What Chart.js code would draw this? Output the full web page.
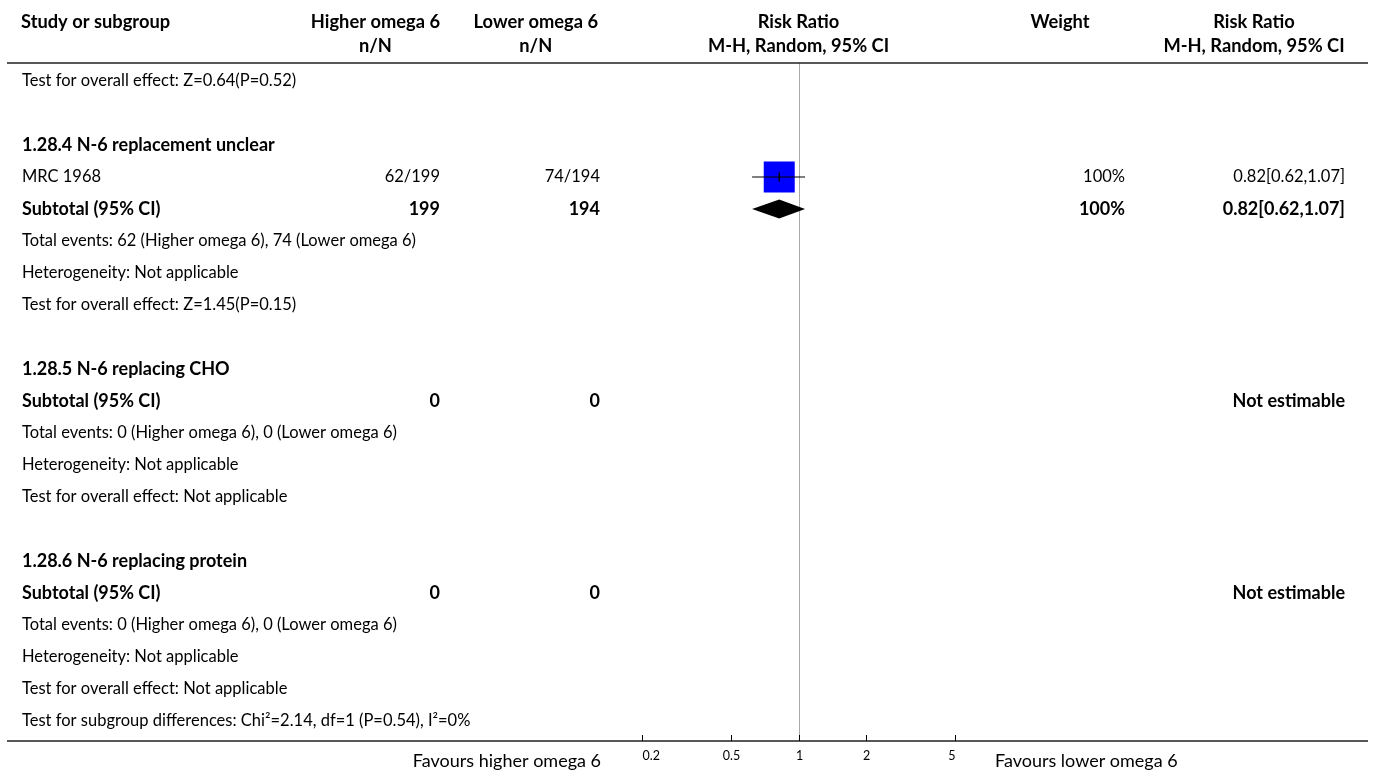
<!DOCTYPE html>
<html>
<head>
<meta charset="utf-8">
<script src="https://cdn.jsdelivr.net/npm/chart.js@4"></script>
<style>
  body { margin: 0; background: #fff; }
  #wrap { width: 1375px; height: 774px; }
</style>
</head>
<body>
<div id="wrap"><canvas id="chart" width="1375" height="774"></canvas></div>
<script>
// table rows, top to bottom
const rowLabels = [
  "Test for overall effect: Z=0.64(P=0.52)", "",
  "1.28.4 N-6 replacement unclear", "MRC 1968", "Subtotal (95% CI)",
  "Total events: 62 (Higher omega 6), 74 (Lower omega 6)",
  "Heterogeneity: Not applicable", "Test for overall effect: Z=1.45(P=0.15)", "",
  "1.28.5 N-6 replacing CHO", "Subtotal (95% CI)",
  "Total events: 0 (Higher omega 6), 0 (Lower omega 6)",
  "Heterogeneity: Not applicable", "Test for overall effect: Not applicable", "",
  "1.28.6 N-6 replacing protein", "Subtotal (95% CI)",
  "Total events: 0 (Higher omega 6), 0 (Lower omega 6)",
  "Heterogeneity: Not applicable", "Test for overall effect: Not applicable",
  "Test for subgroup differences: Chi²=2.14, df=1 (P=0.54), I²=0%"
];
const rowKinds = [
  "note", "blank", "group", "study", "subtotal", "note", "note", "note", "blank",
  "group", "subtotal", "note", "note", "note", "blank",
  "group", "subtotal", "note", "note", "note", "note"
];
const higherCol = ["", "", "", "62/199", "199", "", "", "", "", "", "0", "", "", "", "", "", "0", "", "", "", ""];
const lowerCol  = ["", "", "", "74/194", "194", "", "", "", "", "", "0", "", "", "", "", "", "0", "", "", "", ""];
const weightCol = ["", "", "", "100%", "100%", "", "", "", "", "", "", "", "", "", "", "", "", "", "", "", ""];
const rrCol     = ["", "", "", "0.82[0.62,1.07]", "0.82[0.62,1.07]", "", "", "", "", "", "Not estimable", "", "", "", "", "", "Not estimable", "", "", "", ""];

// study estimates
const studyRows = [3];
const studyRR = [0.82];
const studyLo = [0.62];
const studyHi = [1.07];
const studyWeight = [100];

// pooled estimates
const subRows = [4];
const subRR = [0.82];
const subLo = [0.62];
const subHi = [1.07];

const tickValues = [0.2, 0.5, 1, 2, 5];
const favoursLeft = "Favours higher omega 6";
const favoursRight = "Favours lower omega 6";

const FONT = "Lato, 'Liberation Sans', sans-serif";
const REG = "16.5px " + FONT;
const BOLD = "bold 18px " + FONT;
const HEAD = "bold 18.3px " + FONT;

const squareData = studyRows.map((r, i) => ({ x: studyRR[i], y: r, w: studyWeight[i] }));
const ciData = [];
studyRows.forEach((r, i) => {
  ciData.push({ x: studyLo[i], y: r }, { x: studyHi[i], y: r }, { x: null, y: null });
});

const tablePlugin = {
  id: "table",
  beforeDatasetsDraw(chart) {
    const ctx = chart.ctx;
    const xs = chart.scales.x;
    const area = chart.chartArea;
    const x1 = Math.round(xs.getPixelForValue(1)) + 0.5;
    ctx.save();
    // line of no effect
    ctx.strokeStyle = "#aaaaaa";
    ctx.lineWidth = 1;
    ctx.beginPath();
    ctx.moveTo(x1, area.top);
    ctx.lineTo(x1, area.bottom);
    ctx.stroke();
    ctx.restore();
  },
  afterDatasetsDraw(chart) {
    const ctx = chart.ctx;
    const xs = chart.scales.x, ys = chart.scales.y;
    const area = chart.chartArea;
    const x1 = xs.getPixelForValue(1);
    ctx.save();

    // diamonds
    ctx.fillStyle = "#000";
    subRows.forEach((r, i) => {
      const y = ys.getPixelForValue(r);
      ctx.beginPath();
      ctx.moveTo(xs.getPixelForValue(subLo[i]), y);
      ctx.lineTo(xs.getPixelForValue(subRR[i]), y - 9.5);
      ctx.lineTo(xs.getPixelForValue(subHi[i]), y);
      ctx.lineTo(xs.getPixelForValue(subRR[i]), y + 9.5);
      ctx.closePath();
      ctx.fill();
    });

    // rules
    ctx.strokeStyle = "#222";
    ctx.lineWidth = 1.5;
    ctx.beginPath();
    ctx.moveTo(7, area.top);
    ctx.lineTo(1368, area.top);
    ctx.moveTo(7, area.bottom);
    ctx.lineTo(1368, area.bottom);
    ctx.stroke();

    // axis ticks (upward) and labels
    ctx.lineWidth = 1;
    ctx.strokeStyle = "#000";
    ctx.fillStyle = "#000";
    ctx.font = "12.5px " + FONT;
    ctx.textBaseline = "middle";
    tickValues.forEach((v, i) => {
      const x = Math.round(xs.getPixelForValue(v)) + 0.5;
      ctx.beginPath();
      ctx.moveTo(x, area.bottom);
      ctx.lineTo(x, area.bottom - 6);
      ctx.stroke();
      ctx.textAlign = i === 0 ? "left" : (i === tickValues.length - 1 ? "right" : "center");
      ctx.fillText(String(v), x, area.bottom + 15);
    });

    ctx.font = "18px " + FONT;
    ctx.textAlign = "right";
    ctx.fillText(favoursLeft, 601, area.bottom + 20);
    ctx.textAlign = "left";
    ctx.fillText(favoursRight, 995, area.bottom + 20);

    // header
    ctx.font = HEAD;
    ctx.textAlign = "left";
    ctx.fillText("Study or subgroup", 21, 22);
    const hw = ctx.measureText("Higher omega 6").width;
    const lw = ctx.measureText("Lower omega 6").width;
    ctx.textAlign = "right";
    ctx.fillText("Higher omega 6", 440, 22);
    ctx.fillText("Lower omega 6", 598, 22);
    ctx.textAlign = "center";
    ctx.fillText("n/N", 440 - hw / 2, 46);
    ctx.fillText("n/N", 598 - lw / 2, 46);
    ctx.fillText("Weight", 1060, 22);
    ctx.fillText("Risk Ratio", x1, 22);
    ctx.fillText("M-H, Random, 95% CI", x1, 46);
    ctx.fillText("Risk Ratio", 1254, 22);
    ctx.fillText("M-H, Random, 95% CI", 1254, 46);

    // body rows
    rowLabels.forEach((label, i) => {
      const kind = rowKinds[i];
      if (kind === "blank") return;
      const y = ys.getPixelForValue(i);
      const bold = kind === "group" || kind === "subtotal";
      ctx.font = bold ? BOLD : REG;
      ctx.textAlign = "left";
      ctx.fillText(label, 22, y);
      ctx.textAlign = "right";
      if (higherCol[i]) ctx.fillText(higherCol[i], 440, y);
      if (lowerCol[i]) ctx.fillText(lowerCol[i], 600, y);
      if (weightCol[i]) ctx.fillText(weightCol[i], 1125, y);
      if (rrCol[i]) ctx.fillText(rrCol[i], 1345, y);
    });
    ctx.restore();
  }
};

new Chart(document.getElementById("chart").getContext("2d"), {
  type: "scatter",
  data: {
    datasets: [
      {
        label: "CI",
        data: ciData,
        showLine: true,
        spanGaps: false,
        borderColor: "#000",
        borderWidth: 1,
        pointRadius: 0,
        order: 1
      },
      {
        label: "Point",
        data: squareData,
        pointStyle: "line",
        rotation: 90,
        pointRadius: 4.5,
        borderColor: "#000",
        borderWidth: 1.5,
        order: 0
      },
      {
        label: "Weight",
        data: squareData,
        pointStyle: "rect",
        pointRadius: ctx => 31 * Math.sqrt(ctx.raw.w / 100) / (2 * Math.SQRT1_2),
        backgroundColor: "#0000ff",
        borderColor: "#0000ff",
        borderWidth: 0,
        order: 2
      }
    ]
  },
  options: {
    responsive: false,
    animation: false,
    layout: { padding: { left: 625, right: 403, top: 63, bottom: 33 } },
    scales: {
      x: { type: "logarithmic", min: 0.1675, max: 5.97, display: false },
      y: { type: "linear", min: -0.5625, max: 20.625, reverse: true, display: false }
    },
    plugins: {
      legend: { display: false },
      tooltip: { enabled: false }
    }
  },
  plugins: [tablePlugin]
});
</script>
</body>
</html>
